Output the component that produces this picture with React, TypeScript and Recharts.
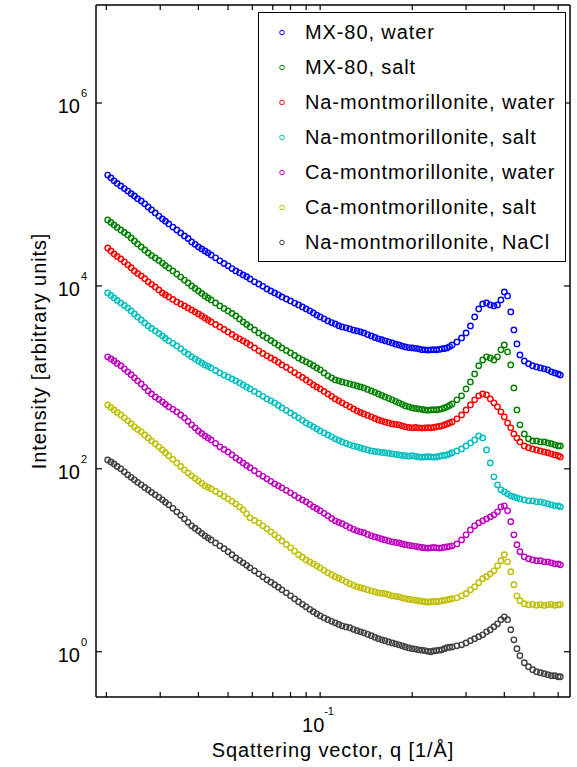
import { ScatterChart, Scatter, XAxis, YAxis, Legend, Label } from 'recharts';

const FONT = '"Liberation Sans", Arial, Helvetica, sans-serif';

// scattering vector q [1/Å], shared by all curves
const q = [
  0.0202, 0.0207, 0.0212, 0.0217, 0.0223, 0.0229, 0.0235, 0.0241, 0.0247, 0.0253,
  0.026, 0.0267, 0.0274, 0.0281, 0.0289, 0.0297, 0.0305, 0.0312, 0.032, 0.033,
  0.034, 0.035, 0.036, 0.037, 0.038, 0.039, 0.04, 0.041, 0.042, 0.043,
  0.044, 0.0455, 0.047, 0.0485, 0.05, 0.0515, 0.053, 0.0545, 0.056, 0.0575,
  0.059, 0.061, 0.063, 0.065, 0.067, 0.069, 0.071, 0.073, 0.075, 0.0775,
  0.08, 0.0825, 0.085, 0.0875, 0.09, 0.0925, 0.095, 0.0975, 0.1, 0.103,
  0.106, 0.109, 0.112, 0.115, 0.118, 0.1215, 0.125, 0.1285, 0.132, 0.1355,
  0.139, 0.143, 0.147, 0.151, 0.155, 0.159, 0.163, 0.1675, 0.172, 0.1765,
  0.181, 0.1855, 0.19, 0.195, 0.2, 0.205, 0.21, 0.215, 0.22, 0.225,
  0.23, 0.235, 0.24, 0.245, 0.25, 0.255, 0.26, 0.265, 0.27,
  0.28, 0.29, 0.3, 0.31, 0.32, 0.33, 0.34, 0.35, 0.36, 0.37,
  0.38, 0.39, 0.4, 0.41, 0.42, 0.43, 0.44, 0.45, 0.465, 0.48,
  0.495, 0.51, 0.525, 0.54, 0.555, 0.57, 0.585, 0.6, 0.61,
];

const mx80Water = [
  163000, 152000, 141000, 132000, 124000, 116000, 109000, 102000, 96300, 90000,
  84900, 79000, 73000, 68000, 62800, 58000, 54000, 51000, 47600, 44000,
  40900, 38000, 35200, 33000, 30300, 28500, 26700, 25400, 24100, 23000,
  21800, 20300, 18800, 17600, 16600, 15500, 14600, 13900, 13200, 12600,
  11900, 11100, 10500, 9900, 9270, 8800, 8380, 8000, 7590, 7200,
  6850, 6500, 6200, 5900, 5610, 5350, 5070, 4800, 4580, 4370,
  4140, 3970, 3840, 3680, 3560, 3480, 3390, 3290, 3220, 3150,
  3060, 2940, 2840, 2730, 2640, 2580, 2510, 2450, 2380, 2310,
  2260, 2200, 2150, 2120, 2100, 2080, 2050, 2010, 2000, 1990,
  2000, 2010, 2000, 2020, 2050, 2070, 2100, 2170, 2260,
  2440, 2700, 3060, 3650, 4580, 5610, 6360, 6520, 6200, 6040,
  6200, 7030, 8590, 7780, 5200, 3300, 2320, 1760, 1510, 1410,
  1340, 1300, 1270, 1240, 1210, 1150, 1120, 1090, 1060,
];

const mx80Salt = [
  52600, 49400, 46400, 43600, 40900, 38400, 36100, 33500, 31000, 28800,
  26700, 24700, 22900, 21500, 20200, 19000, 17800, 16700, 15700, 14600,
  13500, 12500, 11600, 10800, 10000, 9390, 8810, 8280, 7780, 7400,
  7030, 6520, 6040, 5670, 5330, 5010, 4700, 4360, 4040, 3790,
  3560, 3300, 3060, 2870, 2700, 2530, 2380, 2240, 2100, 1970,
  1850, 1740, 1630, 1550, 1480, 1410, 1340, 1270, 1210, 1120,
  1040, 988, 939, 916, 893, 871, 849, 828, 807, 787,
  767, 739, 712, 686, 660, 636, 612, 590, 568, 547,
  527, 507, 488, 476, 464, 458, 453, 447, 441, 438,
  441, 444, 441, 447, 453, 464, 476, 494, 513,
  568, 628, 748, 893, 1090, 1340, 1550, 1680, 1630, 1550,
  1680, 2000, 2260, 1900, 1370, 767, 441, 303, 241, 213,
  202, 202, 197, 197, 192, 188, 183, 178, 178,
];

const naWater = [
  26000, 24100, 22400, 21000, 19700, 18300, 17000, 15800, 14600, 13700,
  12900, 12000, 11100, 10400, 9750, 9040, 8380, 7970, 7590, 7120,
  6680, 6350, 6040, 5750, 5470, 5200, 4940, 4700, 4470, 4250,
  4040, 3790, 3560, 3340, 3140, 2950, 2770, 2640, 2510, 2380,
  2260, 2100, 1950, 1830, 1720, 1630, 1550, 1460, 1370, 1290,
  1210, 1130, 1060, 998, 939, 882, 828, 787, 748, 703,
  660, 620, 582, 554, 527, 501, 476, 452, 430, 414,
  399, 384, 370, 356, 343, 334, 326, 318, 310, 306,
  303, 295, 288, 284, 281, 283, 281, 279, 281, 282,
  281, 284, 288, 291, 295, 302, 310, 318, 326,
  352, 389, 441, 500, 568, 628, 660, 644, 582, 527,
  476, 420, 370, 318, 281, 241, 218, 197, 178, 170,
  165, 161, 157, 153, 150, 146, 142, 139, 135,
];

const naSalt = [
  8380, 7870, 7390, 6940, 6520, 6120, 5750, 5330, 4940, 4580,
  4250, 3940, 3650, 3430, 3220, 3020, 2840, 2670, 2510, 2360,
  2210, 2050, 1900, 1790, 1680, 1590, 1510, 1440, 1370, 1320,
  1270, 1190, 1120, 1060, 1010, 962, 916, 871, 828, 787,
  748, 703, 660, 620, 582, 554, 527, 494, 464, 436,
  409, 384, 361, 339, 318, 303, 288, 274, 260, 247,
  235, 224, 213, 205, 197, 190, 183, 178, 174, 169,
  165, 161, 157, 155, 153, 151, 150, 148, 146, 144,
  142, 140, 139, 137, 139, 137, 135, 134, 135, 136,
  135, 134, 135, 137, 139, 140, 142, 146, 150,
  157, 165, 178, 192, 207, 229, 218, 161, 116, 81.8,
  66.8, 58.9, 56.1, 53.3, 50.7, 49.4, 48.2, 47.0, 45.8, 44.7,
  44.7, 43.6, 43.6, 42.5, 41.4, 40.4, 39.4, 39.4, 38.4,
];

const caWater = [
  1680, 1590, 1510, 1420, 1340, 1240, 1150, 1070, 988, 916,
  849, 778, 712, 660, 612, 575, 540, 507, 476, 447,
  420, 389, 361, 331, 303, 281, 260, 244, 229, 218,
  207, 190, 174, 163, 153, 142, 132, 124, 116, 109,
  103, 95.3, 88.2, 82.8, 77.8, 73.1, 68.6, 65.2, 62.0, 58.2,
  54.7, 51.3, 48.2, 45.8, 43.6, 40.9, 38.4, 36.6, 34.8, 32.6,
  30.6, 28.7, 27.0, 26.0, 25.1, 23.9, 22.7, 21.8, 21.0, 20.5,
  20.0, 19.2, 18.5, 18.0, 17.6, 17.1, 16.7, 16.3, 15.9, 15.7,
  15.5, 15.1, 14.8, 14.6, 14.4, 14.2, 14.0, 13.8, 13.7, 13.6,
  13.7, 13.8, 13.7, 13.6, 13.7, 13.9, 14.0, 14.2, 14.4,
  15.1, 16.7, 19.0, 21.5, 23.8, 25.7, 27.0, 28.4, 29.9, 31.4,
  33.9, 38.4, 39.4, 34.8, 26.4, 19.0, 14.8, 12.4, 10.9, 10.4,
  10.1, 9.88, 9.88, 9.63, 9.63, 9.39, 9.16, 9.16, 8.93,
];

const caSalt = [
  500, 470, 441, 414, 389, 361, 335, 311, 288, 270,
  254, 235, 218, 202, 188, 174, 161, 150, 139, 127,
  116, 106, 97.5, 90.4, 83.8, 78.7, 73.9, 69.4, 65.2, 62.8,
  60.4, 56.7, 53.3, 50.1, 47.0, 44.1, 41.4, 38.4, 35.6, 32.2,
  29.1, 27.3, 25.7, 23.8, 22.1, 20.5, 19.0, 17.6, 16.3, 14.9,
  13.7, 12.6, 11.5, 10.8, 10.1, 9.62, 9.16, 8.71, 8.28, 7.77,
  7.30, 6.95, 6.61, 6.36, 6.12, 5.82, 5.53, 5.33, 5.13, 5.01,
  4.89, 4.76, 4.64, 4.52, 4.41, 4.36, 4.31, 4.20, 4.09, 4.04,
  3.99, 3.89, 3.80, 3.75, 3.70, 3.65, 3.61, 3.56, 3.52, 3.48,
  3.52, 3.56, 3.52, 3.56, 3.61, 3.65, 3.70, 3.75, 3.80,
  3.89, 4.09, 4.31, 4.76, 5.13, 5.68, 6.28, 6.61, 7.12, 7.68,
  8.71, 9.88, 11.5, 9.63, 7.49, 5.40, 4.09, 3.61, 3.35, 3.26,
  3.30, 3.22, 3.28, 3.20, 3.26, 3.30, 3.22, 3.26, 3.28,
];

const naNaCl = [
  125, 119, 113, 106, 100, 92.7, 86.0, 80.7, 75.8, 71.2,
  66.8, 62.7, 58.9, 55.3, 52.0, 48.8, 45.8, 43.0, 40.4, 37.0,
  33.9, 31.0, 28.4, 26.0, 23.8, 22.4, 21.0, 19.7, 18.5, 17.6,
  16.7, 15.5, 14.4, 13.4, 12.4, 11.5, 10.6, 9.98, 9.39, 8.82,
  8.28, 7.68, 7.12, 6.60, 6.12, 5.75, 5.40, 5.07, 4.76, 4.41,
  4.09, 3.79, 3.52, 3.30, 3.10, 2.91, 2.74, 2.60, 2.47, 2.35,
  2.24, 2.15, 2.07, 1.99, 1.92, 1.87, 1.83, 1.76, 1.70, 1.65,
  1.61, 1.55, 1.50, 1.44, 1.39, 1.35, 1.32, 1.28, 1.25, 1.22,
  1.19, 1.16, 1.13, 1.10, 1.08, 1.07, 1.05, 1.04, 1.03, 1.01,
  1.00, 1.02, 1.03, 1.04, 1.05, 1.08, 1.11, 1.12, 1.13,
  1.16, 1.19, 1.25, 1.32, 1.39, 1.46, 1.53, 1.65, 1.74, 1.88,
  2.02, 2.24, 2.41, 2.24, 1.74, 1.35, 1.08, 0.904, 0.758, 0.686,
  0.636, 0.604, 0.589, 0.575, 0.561, 0.547, 0.547, 0.533, 0.533,
];

const seriesNames = [
  'MX-80, water',
  'MX-80, salt',
  'Na-montmorillonite, water',
  'Na-montmorillonite, salt',
  'Ca-montmorillonite, water',
  'Ca-montmorillonite, salt',
  'Na-montmorillonite, NaCl',
];
const seriesValues = [mx80Water, mx80Salt, naWater, naSalt, caWater, caSalt, naNaCl];
const seriesColors = ['#0000ff', '#008000', '#ff0000', '#00bfbf', '#bf00bf', '#bfbf00', '#404040'];

const xTicks = [0.02, 0.03, 0.04, 0.05, 0.06, 0.07, 0.08, 0.09, 0.1, 0.2, 0.3, 0.4, 0.5, 0.6];
const xLabelTicks = [0.1];
const xTickExponents = ['-1'];
const yTicks = [1, 100, 10000, 1000000];
const yTickExponents = ['0', '2', '4', '6'];

const X_DOMAIN: [number, number] = [0.0185, 0.656];
const Y_DOMAIN: [number, number] = [0.32, 1.18e7];

const W = 577;
const H = 767;
const MARGIN = { top: 5, right: 7, bottom: 0, left: 0 };
const PLOT_TOP = MARGIN.top;
const PLOT_RIGHT = W - MARGIN.right;

const series = seriesNames.map((name, i) => ({
  name,
  color: seriesColors[i],
  data: q.map((x, j) => ({ q: x, v: seriesValues[i][j] })),
}));

const ring = (color: string) => (props: any) => (
  <circle cx={props.cx} cy={props.cy} r={2.7} fill="none" stroke={color} strokeWidth={1.4} />
);

// x ticks point inwards on the bottom and the top edge of the box
const XTick = ({ x, y, payload }: any) => {
  const idx = xLabelTicks.indexOf(payload.value);
  return (
    <g fontFamily={FONT} fill="#000">
      <line x1={x} x2={x} y1={y} y2={y - 5} stroke="#000" strokeWidth={1.2} />
      <line x1={x} x2={x} y1={PLOT_TOP} y2={PLOT_TOP + 5} stroke="#000" strokeWidth={1.2} />
      {idx >= 0 && (
        <>
          <text x={x - 7} y={y + 35} textAnchor="middle" fontSize={20}>10</text>
          <text x={x + 4} y={y + 18} fontSize={11}>{xTickExponents[idx]}</text>
        </>
      )}
    </g>
  );
};

// y ticks point inwards on the left and the right edge of the box
const YTick = ({ x, y, payload }: any) => {
  const idx = yTicks.indexOf(payload.value);
  return (
    <g fontFamily={FONT} fill="#000">
      <line x1={x} x2={x + 6} y1={y} y2={y} stroke="#000" strokeWidth={1.2} />
      <line x1={PLOT_RIGHT} x2={PLOT_RIGHT - 6} y1={y} y2={y} stroke="#000" strokeWidth={1.2} />
      <text x={x - 16} y={y + 10} textAnchor="end" fontSize={20}>10</text>
      <text x={x - 15} y={y - 6} fontSize={11}>{yTickExponents[idx]}</text>
    </g>
  );
};

function LegendBox() {
  return (
    <div
      style={{
        width: 308,
        height: 250,
        boxSizing: 'border-box',
        border: '1.5px solid #000',
        background: '#fff',
        paddingTop: 2,
        fontFamily: FONT,
        fontSize: 20,
        letterSpacing: 0.9,
        color: '#000',
      }}
    >
      {series.map(s => (
        <div key={s.name} style={{ height: 35, display: 'flex', alignItems: 'center' }}>
          <svg width={46} height={35} style={{ flex: 'none' }}>
            <circle cx={23} cy={17.5} r={2.3} fill="none" stroke={s.color} strokeWidth={1} />
          </svg>
          <span style={{ whiteSpace: 'nowrap' }}>{s.name}</span>
        </div>
      ))}
    </div>
  );
}

export default function App() {
  const axisStroke = { stroke: '#000', strokeWidth: 1.5 };
  return (
    <div style={{ position: 'absolute', left: 0, top: 0, background: '#fff' }}>
      <ScatterChart width={W} height={H} margin={MARGIN}>
        <XAxis
          type="number"
          dataKey="q"
          scale="log"
          domain={X_DOMAIN}
          allowDataOverflow
          ticks={xTicks}
          interval={0}
          tick={<XTick />}
          tickSize={0}
          tickMargin={0}
          tickLine={false}
          axisLine={axisStroke}
          height={70}
        >
          <Label
            content={({ viewBox }: any) => (
              <text
                x={viewBox.x + viewBox.width / 2}
                y={viewBox.y + 60}
                textAnchor="middle"
                fontFamily={FONT}
                fontSize={20}
                letterSpacing={0.9}
                fill="#000"
              >
                Sqattering vector, q [1/Å]
              </text>
            )}
          />
        </XAxis>
        <YAxis
          type="number"
          dataKey="v"
          scale="log"
          domain={Y_DOMAIN}
          allowDataOverflow
          ticks={yTicks}
          interval={0}
          tick={<YTick />}
          tickSize={0}
          tickMargin={0}
          tickLine={false}
          axisLine={axisStroke}
          width={96}
        >
          <Label
            content={({ viewBox }: any) => {
              const cy = viewBox.y + viewBox.height / 2;
              return (
                <text
                  x={46}
                  y={cy}
                  transform={`rotate(-90, 46, ${cy})`}
                  textAnchor="middle"
                  fontFamily={FONT}
                  fontSize={20}
                  letterSpacing={0.9}
                  fill="#000"
                >
                  Intensity [arbitrary units]
                </text>
              );
            }}
          />
        </YAxis>
        <XAxis
          xAxisId="topEdge"
          type="number"
          scale="log"
          domain={X_DOMAIN}
          allowDataOverflow
          orientation="top"
          mirror
          tick={false}
          tickLine={false}
          axisLine={axisStroke}
        />
        <YAxis
          yAxisId="rightEdge"
          type="number"
          scale="log"
          domain={Y_DOMAIN}
          allowDataOverflow
          orientation="right"
          mirror
          tick={false}
          tickLine={false}
          axisLine={axisStroke}
        />
        {series.map(s => (
          <Scatter
            key={s.name}
            name={s.name}
            data={s.data}
            shape={ring(s.color)}
            isAnimationActive={false}
          />
        ))}
        <Legend
          layout="vertical"
          align="center"
          verticalAlign="middle"
          content={() => <LegendBox />}
          wrapperStyle={{ left: 258, top: 12, width: 308 }}
        />
      </ScatterChart>
    </div>
  );
}
